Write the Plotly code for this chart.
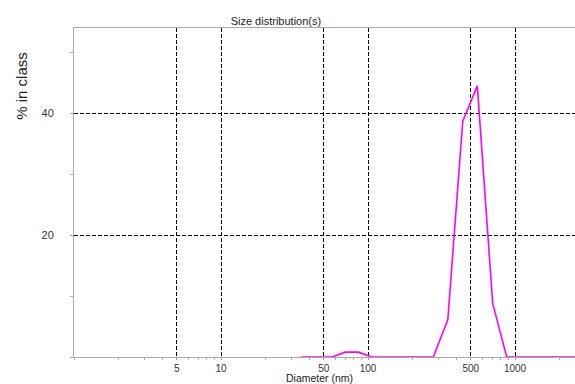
import plotly.graph_objects as go

diameter_nm = [35, 57, 70, 86, 106, 278, 349, 441, 554, 705, 878, 3000]
percent_in_class = [0, 0, 0.8, 0.8, 0, 0, 6.1, 38.7, 44.5, 8.8, 0, 0]

x_tickvals = [5, 10, 50, 100, 500, 1000]
x_ticktext = ["5", "10", "50", "100", "500", "1000"]
y_tickvals = [20, 40]
y_ticktext = ["20", "40"]

FONT = "Liberation Sans, Arial, sans-serif"

fig = go.Figure()
fig.add_trace(go.Scatter(
    x=diameter_nm, y=percent_in_class, mode="lines",
    line=dict(color="#ff00ff", width=1.6), showlegend=False,
))

fig.update_layout(
    width=575, height=384,
    margin=dict(l=74, r=0, t=28, b=27),
    paper_bgcolor="white", plot_bgcolor="white",
    font=dict(family=FONT, size=11, color="#333"),
    title=dict(text="Size distribution(s)", x=0.403, xref="paper", xanchor="center",
               y=0.955, yref="container", font=dict(size=11, color="#222")),
    annotations=[
        dict(text="Diameter (nm)", xref="paper", yref="paper", x=0.491, y=-0.063,
             showarrow=False, font=dict(size=10.5, color="#222"),
             xanchor="center", yanchor="middle"),
        dict(text="% in class", xref="paper", yref="paper", x=-0.104, y=0.824,
             showarrow=False, textangle=-90, font=dict(size=15, color="#222"),
             xanchor="center", yanchor="middle"),
    ],
)

fig.update_xaxes(
    type="log", range=[0, 3.408],
    tickvals=x_tickvals, ticktext=x_ticktext, tickfont=dict(size=10),
    ticks="outside", ticklen=2, tickcolor="#999",
    showline=True, linecolor="#aaa", linewidth=1, mirror=True,
    showgrid=True, gridcolor="black", griddash="4px,2px", gridwidth=1,
    minor=dict(ticks="outside", ticklen=2, tickcolor="#aaa", dtick="D1", showgrid=False),
    zeroline=False,
)
fig.update_yaxes(
    range=[0, 54],
    tickvals=y_tickvals, ticktext=y_ticktext,
    ticks="outside", ticklen=3, tickcolor="#999", ticklabelstandoff=14,
    showline=True, linecolor="#aaa", linewidth=1,
    showgrid=True, gridcolor="black", griddash="4px,2px", gridwidth=1,
    minor=dict(ticks="outside", ticklen=3, tickcolor="#aaa", tick0=0, dtick=10, showgrid=False),
    zeroline=False,
)

fig.write_html("out.html", config={"displayModeBar": False},
               post_script="document.body.style.margin='0px';")
